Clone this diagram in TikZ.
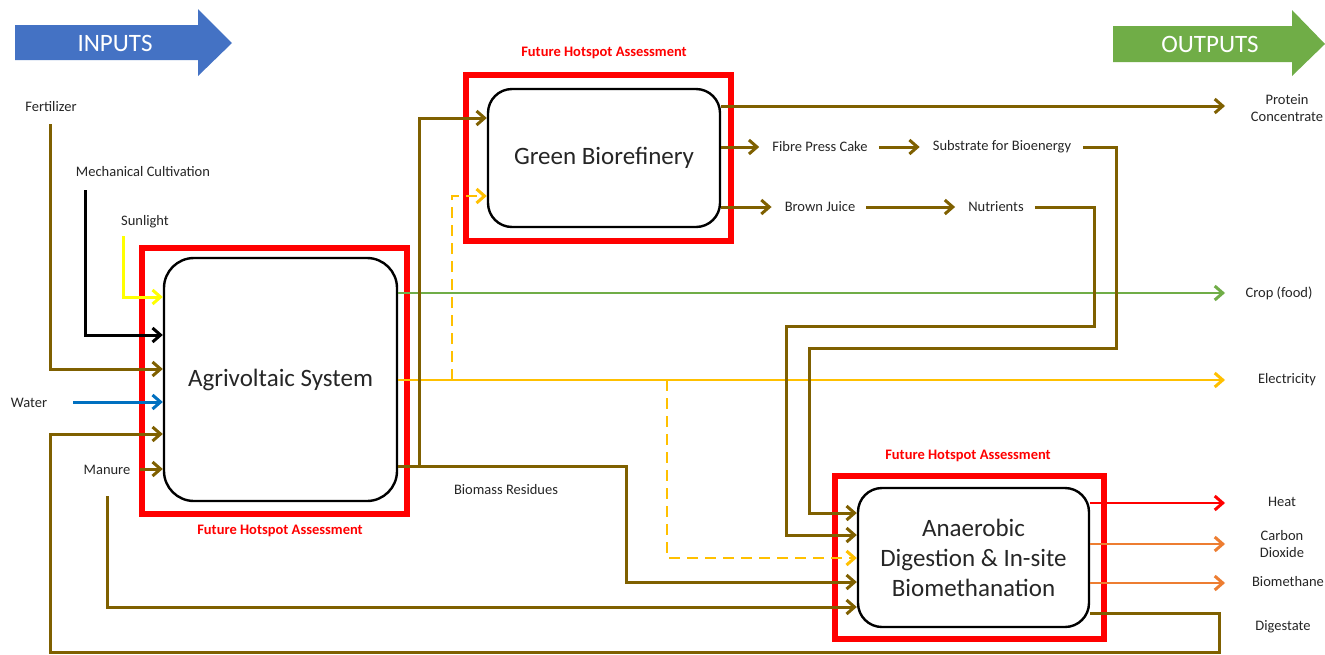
\documentclass[tikz,border=0pt]{standalone}
\usepackage{fontspec}
\setmainfont{Carlito}
\usetikzlibrary{arrows.meta}
\definecolor{brn}{HTML}{7F6000}
\definecolor{grn}{HTML}{70AD47}
\definecolor{elec}{HTML}{FFC000}
\definecolor{sun}{HTML}{FFFF00}
\definecolor{wat}{HTML}{0070C0}
\definecolor{org}{HTML}{ED7D31}
\definecolor{inblue}{HTML}{4472C4}
\definecolor{txt}{HTML}{262626}
\begin{document}
\begin{tikzpicture}[x=1pt,y=-1pt,
  procbox/.style={draw=black,line width=2.4pt,rounded corners=30pt,fill=white,align=center,text=txt,font=\fontsize{25}{30}\selectfont,inner sep=0pt},
  lbl/.style={text=txt,font=\fontsize{14.5}{17.5}\selectfont,align=center,inner sep=0pt},
  hotlbl/.style={text=red,font=\bfseries\fontsize{14.5}{16}\selectfont,inner sep=0pt},
  flow/.style={line width=3pt,-{Straight Barb[length=8pt,width=14pt,line width=3pt]}},
  line/.style={line width=3pt},
  gap/.style={shorten >=13pt,shorten <=11pt},
  bigarrow/.style={text=white,font=\fontsize{25}{28}\selectfont,inner sep=0pt}
]
\useasboundingbox (0,0) rectangle (1325,654);
\fill[white] (0,0) rectangle (1325,654);

% big arrows
\fill[inblue] (15,25) -- (198,25) -- (198,9) -- (232,43) -- (198,76) -- (198,60) -- (15,60) -- cycle;
\node[bigarrow] (inputs) at (115,43) {INPUTS};
\fill[grn] (1113,26) -- (1292,26) -- (1292,10) -- (1325,44) -- (1292,76) -- (1292,62) -- (1113,62) -- cycle;
\node[bigarrow] (outputs) at (1210,44) {OUTPUTS};

% hotspot frames
\node[draw=red,line width=6pt,minimum width=265pt,minimum height=266pt,inner sep=0pt] (avf) at (274.5,381) {};
\node[draw=red,line width=6pt,minimum width=265pt,minimum height=166pt,inner sep=0pt] (gbf) at (598.5,158) {};
\node[draw=red,line width=6pt,minimum width=269pt,minimum height=163pt,inner sep=0pt] (adf) at (969.5,557.5) {};
\node[hotlbl] (h1) at (604,53) {Future Hotspot Assessment};
\node[hotlbl] (h2) at (280,531) {Future Hotspot Assessment};
\node[hotlbl] (h3) at (968,456) {Future Hotspot Assessment};

% process boxes
\node[procbox,minimum width=233pt,minimum height=243pt] (av) at (280.5,379.5) {Agrivoltaic System};
\node[procbox,minimum width=232pt,minimum height=138pt,rounded corners=24pt] (gb) at (604,158) {Green Biorefinery};
\node[procbox,minimum width=231pt,minimum height=139pt,rounded corners=24pt] (ad) at (973.5,557.5) {Anaerobic\\Digestion \& In-site\\Biomethanation};

% input labels
\node[lbl] (fert) at (51,107) {Fertilizer};
\node[lbl] (mech) at (143,172) {Mechanical Cultivation};
\node[lbl] (sunl) at (145,222) {Sunlight};
\node[lbl] (water) at (29,403) {Water};
\node[lbl] (manure) at (107,470) {Manure};
\node[lbl] (biores) at (506,490) {Biomass Residues};

% middle labels
\node[lbl] (fpc) at (820,147) {Fibre Press Cake};
\node[lbl] (sub) at (1002,147) {Substrate for Bioenergy};
\node[lbl] (bj) at (820,207) {Brown Juice};
\node[lbl] (nut) at (996,207) {Nutrients};

% output labels
\node[lbl] (prot) at (1287,108) {Protein\\Concentrate};
\node[lbl] (crop) at (1279,293) {Crop (food)};
\node[lbl] (elecl) at (1287,380) {Electricity};
\node[lbl] (heat) at (1282,502) {Heat};
\node[lbl] (co2) at (1282,544) {Carbon\\Dioxide};
\node[lbl] (biom) at (1288,582) {Biomethane};
\node[lbl] (dig) at (1283,627) {Digestate};

% coordinates
\coordinate (fertS) at (50,124);
\coordinate (mechS) at (85,190);
\coordinate (sunS) at (123,236);
\coordinate (watS) at (73,402);
\coordinate (manS) at (140,469);
\coordinate (man2S) at (107,496);
\coordinate (digC1) at (1219,652);
\coordinate (digC2) at (50,652);
\coordinate (bioC) at (419,466);
\coordinate (outX) at (1225,0);

% inputs to AV
\draw[flow,brn] (fertS) |- (av.west |- 0,369);
\draw[flow,black] (mechS) |- (av.west |- 0,335);
\draw[flow,sun] (sunS) |- (av.west |- 0,297);
\draw[flow,wat] (watS) -- (av.west |- 0,402);
\draw[flow,brn] (manS) -- (av.west |- 0,469);
\draw[flow,brn] (ad.east |- 0,613) -| (digC1) -- (digC2) |- (av.west |- 0,434);
\draw[flow,brn] (man2S) |- (ad.west |- 0,607);

% outputs of AV
\draw[flow,grn,line width=2.3pt] (av.east |- 0,293) -- (outX |- 0,293);
\draw[flow,elec,line width=2.6pt] (av.east |- 0,380) -- (outX |- 0,380);
\draw[flow,elec,line width=2.6pt,dash pattern=on 11pt off 7pt] (452,380) |- (gb.west |- 0,196);
\draw[flow,elec,line width=2.6pt,dash pattern=on 11pt off 7pt] (667,380) |- (ad.west |- 0,558);
\draw[line,brn] (av.east |- bioC) -- (bioC);
\draw[flow,brn] (bioC) |- (gb.west |- 0,118);
\draw[flow,brn] (bioC) -| (626,582) -- (ad.west |- 0,582);

% outputs of GB
\draw[flow,brn] (gb.east |- 0,106) -- (outX |- 0,106);
\draw[flow,brn,shorten >=13pt] (gb.east |- 0,147) -- (fpc.west);
\draw[flow,brn,gap] (fpc.east) -- (sub.west);
\draw[flow,brn,shorten >=13pt] (gb.east |- 0,207) -- (bj.west);
\draw[flow,brn,gap] (bj.east) -- (nut.west);
\draw[flow,brn,shorten <=12pt] (sub.east) -| (1116,348) -| (809,513) -- (ad.west |- 0,513);
\draw[flow,brn,shorten <=11pt] (nut.east) -| (1094,326) -| (786,535) -- (ad.west |- 0,535);

% outputs of AD
\draw[flow,red,line width=2.7pt] (ad.east |- 0,503) -- (outX |- 0,503);
\draw[flow,org,line width=2.7pt] (ad.east |- 0,544) -- (outX |- 0,544);
\draw[flow,org,line width=2.7pt] (ad.east |- 0,583) -- (outX |- 0,583);
\end{tikzpicture}
\end{document}
